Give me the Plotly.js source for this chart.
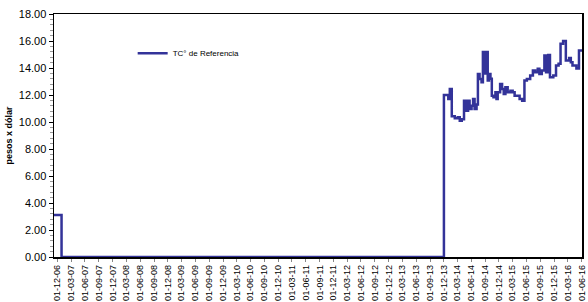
<!DOCTYPE html>
<html>
<head>
<meta charset="utf-8">
<script src="https://cdn.plot.ly/plotly-3.0.1.min.js"></script>
<style>html,body{margin:0;padding:0;background:#fff;}#chart{width:588px;height:302px;}</style>
</head>
<body>
<div id="chart"></div>
<script>
// Tick dates (quarterly, first of month)
const tickDates = ["2006-12-01","2007-03-01","2007-06-01","2007-09-01","2007-12-01","2008-03-01","2008-06-01","2008-09-01","2008-12-01","2009-03-01","2009-06-01","2009-09-01","2009-12-01","2010-03-01","2010-06-01","2010-09-01","2010-12-01","2011-03-01","2011-06-01","2011-09-01","2011-12-01","2012-03-01","2012-06-01","2012-09-01","2012-12-01","2013-03-01","2013-06-01","2013-09-01","2013-12-01","2014-03-01","2014-06-01","2014-09-01","2014-12-01","2015-03-01","2015-06-01","2015-09-01","2015-12-01","2016-03-01","2016-06-01"];
const tickLabels = ["01-12-06","01-03-07","01-06-07","01-09-07","01-12-07","01-03-08","01-06-08","01-09-08","01-12-08","01-03-09","01-06-09","01-09-09","01-12-09","01-03-10","01-06-10","01-09-10","01-12-10","01-03-11","01-06-11","01-09-11","01-12-11","01-03-12","01-06-12","01-09-12","01-12-12","01-03-13","01-06-13","01-09-13","01-12-13","01-03-14","01-06-14","01-09-14","01-12-14","01-03-15","01-06-15","01-09-15","01-12-15","01-03-16","01-06-16"];

// Series: TC° de Referencia (step changes)
const dates = ["2006-11-08","2006-12-28","2013-12-02","2013-12-31","2014-01-10","2014-01-23","2014-02-12","2014-03-04","2014-03-17","2014-03-30","2014-04-14","2014-04-28","2014-05-11","2014-05-21","2014-06-03","2014-06-13","2014-06-23","2014-07-06","2014-07-15","2014-07-26","2014-08-08","2014-08-17","2014-08-31","2014-09-05","2014-09-18","2014-09-26","2014-10-06","2014-10-15","2014-10-26","2014-11-08","2014-11-15","2014-11-23","2014-12-09","2014-12-22","2015-01-02","2015-01-13","2015-01-28","2015-02-15","2015-03-02","2015-03-15","2015-04-17","2015-05-04","2015-05-19","2015-06-04","2015-06-26","2015-07-14","2015-07-29","2015-08-15","2015-08-26","2015-09-11","2015-09-28","2015-10-09","2015-10-24","2015-11-04","2015-11-26","2015-12-14","2015-12-31","2016-01-13","2016-01-30","2016-02-17","2016-03-10","2016-03-21","2016-04-01","2016-04-27","2016-05-14","2016-06-03"];
const values = [3.12,0,12.0,11.7,12.45,10.42,10.27,10.35,10.09,10.2,11.58,10.83,11.58,10.96,11.2,11.7,10.96,11.3,13.56,13.19,12.94,15.18,13.6,15.18,13.07,13.56,13.2,11.95,11.83,12.2,11.7,12.2,12.82,12.45,12.07,12.57,12.2,12.32,12.2,11.95,11.7,11.58,13.07,13.19,13.44,13.81,13.69,13.94,13.56,13.81,14.93,13.69,14.97,13.32,13.44,14.18,14.31,15.8,16.0,14.55,14.75,14.43,14.18,13.97,15.3,15.3];

const yTickVals = [0,2,4,6,8,10,12,14,16,18];

const trace = {
  x: dates, y: values, type: 'scatter', mode: 'lines',
  line: {color: '#333399', width: 2.5, shape: 'hv'},
  name: 'TC° de Referencia'
};

const layout = {
  width: 588, height: 302,
  margin: {l: 54, r: 6, t: 14, b: 45, pad: 0},
  paper_bgcolor: '#ffffff', plot_bgcolor: '#ffffff',
  font: {family: 'Liberation Sans, Arial, sans-serif', color: '#000'},
  showlegend: true,
  legend: {x: 0.149, y: 0.838, xanchor: 'left', yanchor: 'middle', bgcolor: 'rgba(0,0,0,0)',
           font: {size: 8, family: 'Liberation Sans, Arial, sans-serif'}},
  xaxis: {
    type: 'date', range: ['2006-11-08', '2016-06-03'], automargin: false,
    ticklabeloverflow: 'allow',
    tickmode: 'array', tickvals: tickDates, ticktext: tickLabels,
    tickangle: -90, tickfont: {size: 9},
    ticks: 'outside', ticklen: 3, tickcolor: '#888', tickwidth: 1,
    showgrid: false, zeroline: false,
    showline: true, linecolor: '#000', linewidth: 1.5, mirror: true
  },
  yaxis: {
    range: [0, 18], tickmode: 'array', tickvals: yTickVals, tickformat: '.2f',
    tickfont: {size: 11},
    ticks: 'outside', ticklen: 4, tickcolor: '#000', tickwidth: 1,
    minor: {dtick: 0.4, ticks: 'outside', ticklen: 3, tickcolor: '#999', showgrid: false},
    showgrid: false, zeroline: false,
    showline: true, linecolor: '#000', linewidth: 1.5, mirror: true,
    title: {text: 'pesos x dólar', font: {size: 9, weight: 'bold'}, standoff: 4}
  }
};

Plotly.newPlot('chart', [trace], layout, {displayModeBar: false, staticPlot: true});
</script>
</body>
</html>
